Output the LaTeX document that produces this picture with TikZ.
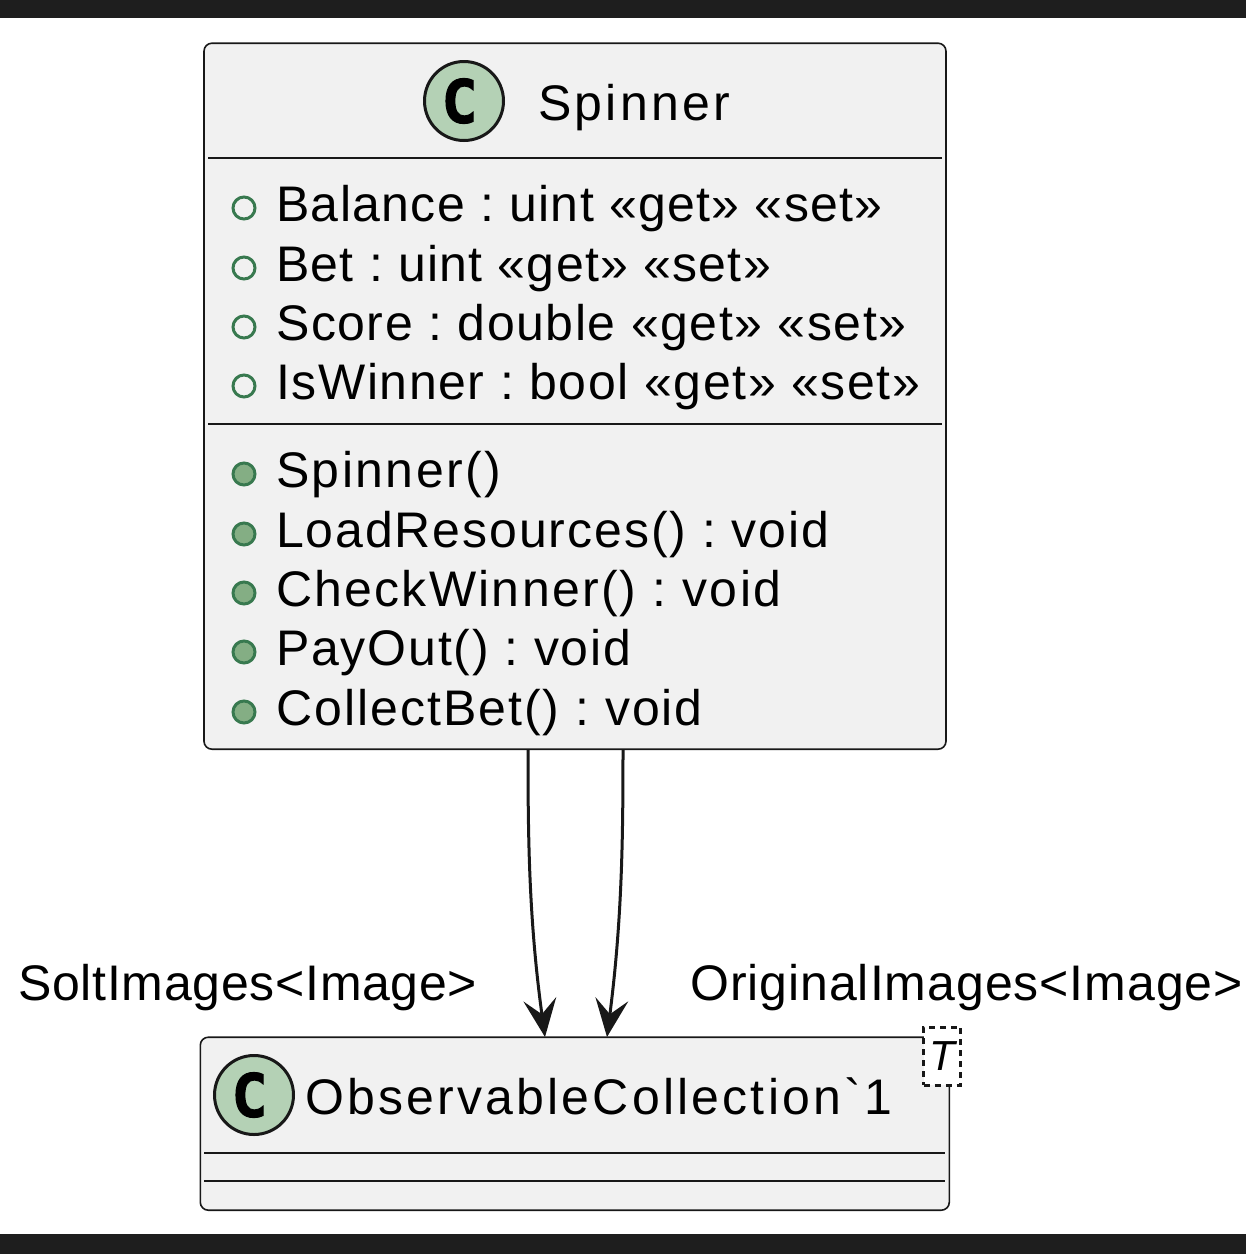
\documentclass[tikz,border=0pt]{standalone}
\usepackage{fontspec}
\setmainfont{Liberation Sans}
\newfontfamily\memberfont[LetterSpace=2.4]{Liberation Sans}
\newfontfamily\titlefont[LetterSpace=6.4]{Liberation Sans}
\newfontfamily\glyphfont[FakeBold=1.5]{DejaVu Sans Mono}
\usetikzlibrary{arrows.meta}
\frenchspacing
\definecolor{barcol}{HTML}{1E1E1E}
\definecolor{boxfill}{HTML}{F1F1F1}
\definecolor{linecol}{HTML}{181818}
\definecolor{spotfill}{HTML}{B4D1B5}
\definecolor{visline}{HTML}{38794F}
\definecolor{visfill}{HTML}{84AE84}
\tikzset{
  x=1pt,y=-1pt,
  classbox/.style={draw=linecol,fill=boxfill,line width=1.6pt,rounded corners=8pt,inner sep=0pt,anchor=north west},
  divider/.style={draw=linecol,line width=1.6pt},
  spot/.style={circle,draw=linecol,fill=spotfill,line width=3pt,minimum size=79pt,inner sep=0pt},
  spotletter/.style={inner sep=0pt,font={\glyphfont\bfseries\fontsize{60pt}{60pt}\selectfont}},
  member/.style={anchor=base west,inner sep=0pt,font=\memberfont\fontsize{50pt}{50pt}\selectfont,text=black},
  title/.style={anchor=base west,inner sep=0pt,font=\titlefont\fontsize{50pt}{50pt}\selectfont,text=black},
  lbl/.style={member},
  visfield/.style={circle,draw=visline,line width=3pt,minimum size=22pt,inner sep=0pt},
  vismethod/.style={visfield,fill=visfill},
  conn/.style={draw=linecol,line width=3pt,-{Stealth[length=38pt,width=33pt,inset=15pt]}},
  tparam/.style={draw=linecol,fill=white,dash pattern=on 6pt off 5pt,line width=3pt,minimum width=37pt,minimum height=58pt,inner sep=0pt,anchor=north west}
}
\begin{document}
\begin{tikzpicture}
\useasboundingbox (0,0) rectangle (1246,1254);
\fill[barcol] (0,0) rectangle (1246,18);
\fill[barcol] (0,1234) rectangle (1246,1254);
% Spinner
\node[classbox,minimum width=742pt,minimum height=706pt] (spinner) at (203.2,42.4) {};
\draw[divider] (208,158) -- (942,158);
\draw[divider] (208,424) -- (942,424);
\node[spot] (spotS) at (464,101) {};
\node[spotletter] (spotSc) at ([xshift=-4.5pt]spotS.center) {C};
\node[title] (tS) at (538,120) {Spinner};
\foreach \n/\y/\s/\t in {a/221/2.7/{Balance : uint «get» «set»},b/281/2.6/{Bet : uint «get» «set»},c/340/3.1/{Score : double «get» «set»},d/399/3.2/{IsWinner : bool «get» «set»}}{
  \node[visfield] (v\n) at (244,\y-13) {};
  \node[member] (m\n) at (276,\y) {\addfontfeature{LetterSpace=\s}\t};
}
\foreach \n/\y/\s/\t in {e/487/4.8/{Spinner()},f/547/3.8/{LoadResources() : void},g/606/4.5/{CheckWinner() : void},h/665/3.6/{PayOut() : void},i/725/4.0/{CollectBet() : void}}{
  \node[vismethod] (v\n) at (244,\y-13) {};
  \node[member] (m\n) at (276,\y) {\addfontfeature{LetterSpace=\s}\t};
}
% ObservableCollection
\node[classbox,minimum width=749pt,minimum height=173pt] (obs) at (199.5,1036.4) {};
\draw[divider] (204,1153) -- (945,1153);
\draw[divider] (204,1181) -- (945,1181);
\node[spot] (spotO) at (254,1095) {};
\node[spotletter] (spotOc) at ([xshift=-4.5pt]spotO.center) {C};
\node[title] (tO) at (305,1114) {ObservableCollection\symbol{96}1};
\node[tparam] (tp) at (922,1025.5) {};
\node[inner sep=0pt,font=\fontsize{42pt}{42pt}\selectfont\itshape] (tpt) at (tp.center) {T};
% connectors
\coordinate (s1) at (528,749);
\coordinate (s2) at (623,749);
\coordinate (e1) at (545,1037);
\coordinate (e2) at (607,1037);
\draw[conn] (s1) .. controls (528,840) and (529,920) .. (e1);
\draw[conn] (s2) .. controls (623,840) and (622,920) .. (e2);
\node[lbl] (l1) at (18,1000) {\addfontfeature{LetterSpace=1.45}SoltImages<Image>};
\node[lbl] (l2) at (690,1000) {\addfontfeature{LetterSpace=1.9}OriginalImages<Image>};
\end{tikzpicture}
\end{document}
